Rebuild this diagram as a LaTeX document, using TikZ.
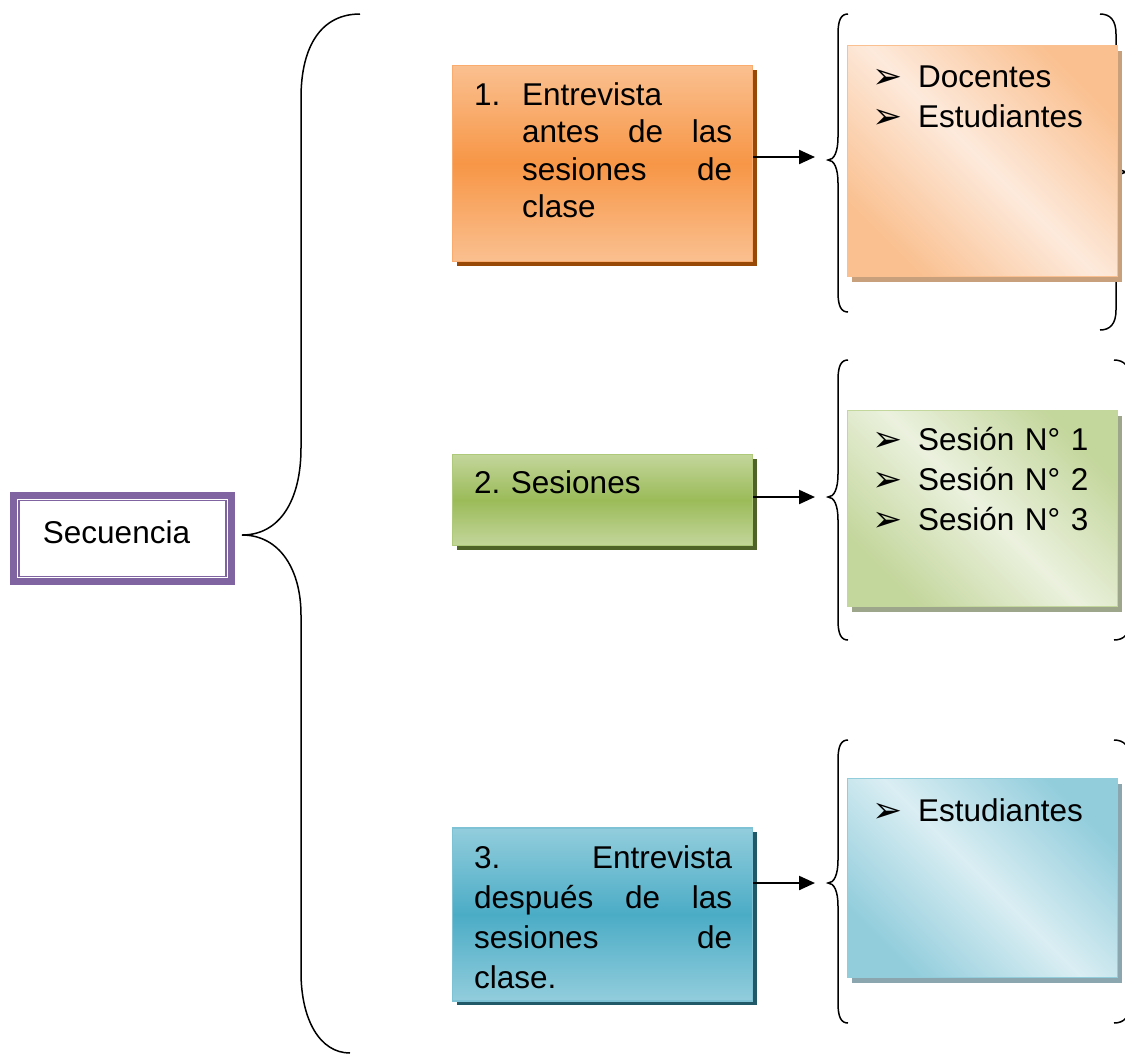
\documentclass[tikz,border=0pt]{standalone}
\usepackage{fontspec}
\setmainfont{Liberation Sans}
\newfontfamily\bulletfont{DejaVu Sans}
\usetikzlibrary{arrows.meta,calc,shadows}
\frenchspacing
\definecolor{secpurple}{HTML}{8064A2}
\definecolor{orangeTop}{HTML}{FAC090}
\definecolor{orangeMid}{HTML}{F79646}
\definecolor{orangeLine}{HTML}{F9AC6E}
\definecolor{orangeShadow}{HTML}{984807}
\definecolor{orangeSoft}{HTML}{FDEADC}
\definecolor{orangeSoftShadow}{HTML}{C9A07C}
\definecolor{greenTop}{HTML}{C3D69B}
\definecolor{greenMid}{HTML}{9BBB59}
\definecolor{greenLine}{HTML}{AFC97A}
\definecolor{greenShadow}{HTML}{4F6228}
\definecolor{greenSoft}{HTML}{EBF1DE}
\definecolor{greenSoftShadow}{HTML}{9DA68A}
\definecolor{blueTop}{HTML}{92CDDC}
\definecolor{blueMid}{HTML}{4BACC6}
\definecolor{blueLine}{HTML}{7DC2D5}
\definecolor{blueShadow}{HTML}{215968}
\definecolor{blueSoft}{HTML}{DAEEF3}
\definecolor{blueSoftShadow}{HTML}{8BA6AF}
\newcommand{\itemarrow}{\makebox[46pt][l]{\bulletfont\fontsize{36}{36}\selectfont\raisebox{-1pt}{➢}}}

\begin{document}
\begin{tikzpicture}[x=1pt, y=-1pt,
  stepbox/.style={rectangle, line width=1.2pt, minimum width=300pt, inner sep=0pt},
  listbox/.style={rectangle, line width=1.2pt, minimum width=270pt, inner sep=0pt},
  steptext/.style={anchor=base west, text width=258pt, align=left, inner sep=0pt, font=\fontsize{31.5}{40}\selectfont},
  listtext/.style={anchor=base west, text width=246pt, align=left, inner sep=0pt, font=\fontsize{31.5}{40}\selectfont},
  brace/.style={line width=1.5pt},
  conn/.style={line width=2.2pt, -{Triangle[length=16pt,width=14pt]}}
]
\useasboundingbox[fill=white] (0,0) rectangle (1125,1053);

% Secuencia (double purple frame)
\node[rectangle, draw=secpurple, line width=7pt, minimum width=218pt, minimum height=86pt, inner sep=0pt] (sec) at (122.5,538.5) {};
\draw[secpurple, line width=1.2pt] ($(sec.north west)+(9,8.5)$) rectangle ($(sec.south east)+(-9,-8.5)$);
\node[anchor=base, inner sep=0pt, font=\fontsize{31.5}{40}\selectfont] (sectext) at (116.5,543) {Secuencia};

% big brace
\draw[brace] (360,14) .. controls (322,14) and (301,45) .. (301,98) -- (301,448)
  .. controls (301,500) and (280,535) .. (242,535)
  .. controls (280,535) and (301,570) .. (301,615) -- (301,972)
  .. controls (301,1020) and (320,1053) .. (350,1053);

% Step 1
\node[stepbox, minimum height=196pt, draw=orangeLine, top color=orangeTop, bottom color=orangeTop, middle color=orangeMid,
  drop shadow={shadow xshift=4pt, shadow yshift=-4pt, opacity=1, fill=orangeShadow}] (e1) at (602.5,163.5) {};
\node[steptext, font=\fontsize{31.5}{37.5}\selectfont] (t1) at (474,105) {\makebox[48pt][l]{1.}Entrevista\\
  \hspace*{48pt}antes\hfill de\hfill las\\
  \hspace*{48pt}sesiones\hfill de\\
  \hspace*{48pt}clase};

% Step 2
\node[stepbox, minimum height=91pt, draw=greenLine, top color=greenTop, bottom color=greenTop, middle color=greenMid,
  drop shadow={shadow xshift=4pt, shadow yshift=-4pt, opacity=1, fill=greenShadow}] (e2) at (602.5,500) {};
\node[steptext] (t2) at (474,493) {2. Sesiones};

% Step 3
\node[stepbox, minimum height=173pt, draw=blueLine, top color=blueTop, bottom color=blueTop, middle color=blueMid,
  drop shadow={shadow xshift=4pt, shadow yshift=-4pt, opacity=1, fill=blueShadow}] (e3) at (602.5,914.5) {};
\node[steptext] (t3) at (474,868) {3.\hfill Entrevista\\
  después\hfill de\hfill las\\
  sesiones\hfill de\\
  clase.};

% arrows
\coordinate (a1) at (815,157);
\coordinate (a2) at (815,497);
\coordinate (a3) at (815,883);
\draw[conn] (e1.east |- a1) -- (a1);
\draw[conn] (e2.east |- a2) -- (a2);
\draw[conn] (e3.east |- a3) -- (a3);

% small braces, left
\draw[brace] (848,14) .. controls (841,14) and (838,20) .. (838,34) -- (838,137)
  .. controls (838,152) and (834,160) .. (828,160) .. controls (834,160) and (838,168) .. (838,183)
  -- (838,292) .. controls (838,306) and (841,312) .. (848,312);
\draw[brace] (848,360) .. controls (841,360) and (838,366) .. (838,380) -- (838,474)
  .. controls (838,489) and (834,497) .. (828,497) .. controls (834,497) and (838,505) .. (838,520)
  -- (838,620) .. controls (838,634) and (841,640) .. (848,640);
\draw[brace] (848,740) .. controls (841,740) and (838,746) .. (838,760) -- (838,860)
  .. controls (838,875) and (834,883) .. (828,883) .. controls (834,883) and (838,891) .. (838,906)
  -- (838,1003) .. controls (838,1017) and (841,1023) .. (848,1023);

% small braces, right
\draw[brace] (1100,14) .. controls (1110,14) and (1116,20) .. (1116,34) -- (1116,149)
  .. controls (1116,164) and (1120,172) .. (1126,172) .. controls (1120,172) and (1116,180) .. (1116,195)
  -- (1116,310) .. controls (1116,324) and (1110,330) .. (1100,330);
\draw[brace] (1114,360) .. controls (1124,360) and (1130,366) .. (1130,380) -- (1130,477)
  .. controls (1130,492) and (1134,500) .. (1140,500) .. controls (1134,500) and (1130,508) .. (1130,523)
  -- (1130,620) .. controls (1130,634) and (1124,640) .. (1114,640);
\draw[brace] (1114,740) .. controls (1124,740) and (1130,746) .. (1130,760) -- (1130,860)
  .. controls (1130,875) and (1134,883) .. (1140,883) .. controls (1134,883) and (1130,891) .. (1130,906)
  -- (1130,1003) .. controls (1130,1017) and (1124,1023) .. (1114,1023);

% lists
\node[listbox, minimum height=231pt, draw=orangeTop, top color=orangeTop, bottom color=orangeTop, middle color=orangeSoft, shading angle=-45,
  drop shadow={shadow xshift=4pt, shadow yshift=-5pt, opacity=1, fill=orangeSoftShadow}] (l1) at (982.5,161) {};
\node[listtext] (lt1) at (872,87) {\itemarrow Docentes\\ \itemarrow Estudiantes};

\node[listbox, minimum height=196pt, draw=greenTop, top color=greenTop, bottom color=greenTop, middle color=greenSoft, shading angle=-45,
  drop shadow={shadow xshift=4pt, shadow yshift=-5pt, opacity=1, fill=greenSoftShadow}] (l2) at (982.5,508.5) {};
\node[listtext] (lt2) at (872,450) {\itemarrow Sesión N° 1\\ \itemarrow Sesión N° 2\\ \itemarrow Sesión N° 3};

\node[listbox, minimum height=199pt, draw=blueTop, top color=blueTop, bottom color=blueTop, middle color=blueSoft, shading angle=-45,
  drop shadow={shadow xshift=4pt, shadow yshift=-5pt, opacity=1, fill=blueSoftShadow}] (l3) at (982.5,878) {};
\node[listtext] (lt3) at (872,821) {\itemarrow Estudiantes};
\end{tikzpicture}
\end{document}
